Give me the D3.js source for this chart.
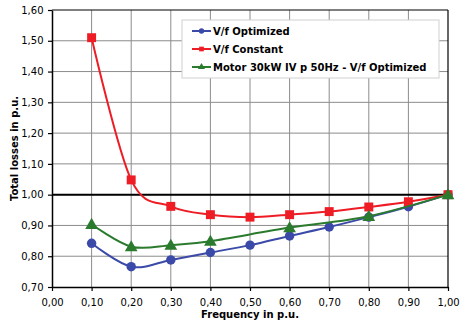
<!DOCTYPE html>
<html>
<head>
<meta charset="utf-8">
<script src="https://cdn.jsdelivr.net/npm/d3@7"></script>
<style>
  body { margin: 0; background: #fff; }
  svg text { font-family: "DejaVu Sans", Verdana, sans-serif; }
</style>
</head>
<body>
<svg id="chart" width="467" height="328"></svg>
<script>
// data
const optX = [0.1, 0.2, 0.3, 0.4, 0.5, 0.6, 0.7, 0.8, 0.9, 1.0]
const optY = [0.842, 0.766, 0.788, 0.812, 0.836, 0.866, 0.895, 0.927, 0.961, 1.0]

const constX = [0.1, 0.2, 0.3, 0.4, 0.5, 0.6, 0.7, 0.8, 0.9, 1.0]
const constY = [1.51, 1.048, 0.962, 0.935, 0.927, 0.935, 0.945, 0.960, 0.977, 1.0]

const motorX = [0.1, 0.2, 0.3, 0.4, 0.6, 0.8, 1.0]
const motorY = [0.904, 0.831, 0.836, 0.849, 0.893, 0.930, 1.0]

const xTicks = [0, 0.1, 0.2, 0.3, 0.4, 0.5, 0.6, 0.7, 0.8, 0.9, 1.0]
const yTicks = [0.7, 0.8, 0.9, 1.0, 1.1, 1.2, 1.3, 1.4, 1.5, 1.6]

const seriesNames = ["V/f Optimized", "V/f Constant", "Motor 30kW IV p 50Hz - V/f Optimized"]

const svg = d3.select("#chart")
const margin = { top: 10, right: 19, bottom: 41, left: 52 }
const width = 467 - margin.left - margin.right
const height = 328 - margin.top - margin.bottom

const x = d3.scaleLinear().domain([0, 1]).range([0, width])
const y = d3.scaleLinear().domain([0.7, 1.6]).range([height, 0])

const fmt = d => d.toFixed(2).replace(".", ",")

const g = svg.append("g").attr("transform", "translate(" + margin.left + "," + margin.top + ")")

// grid
g.append("g").selectAll("line").data(xTicks.slice(1, -1)).enter().append("line")
    .attr("x1", d => x(d)).attr("x2", d => x(d))
    .attr("y1", 0).attr("y2", height)
    .attr("stroke", "#8c8c8c").attr("stroke-width", 1)
g.append("g").selectAll("line").data(yTicks.slice(1, -1)).enter().append("line")
    .attr("x1", 0).attr("x2", width)
    .attr("y1", d => y(d)).attr("y2", d => y(d))
    .attr("stroke", "#8c8c8c").attr("stroke-width", 1)

// axes
const xAxis = g.append("g").attr("transform", "translate(0," + height + ")")
    .call(d3.axisBottom(x).tickValues(xTicks).tickFormat(fmt).tickSize(4).tickSizeOuter(0))
const yAxis = g.append("g")
    .call(d3.axisLeft(y).tickValues(yTicks).tickFormat(fmt).tickSize(4).tickSizeOuter(0))
for (const ax of [xAxis, yAxis]) {
    ax.select(".domain").attr("stroke", "#000").attr("stroke-width", 1.5)
    ax.selectAll(".tick line").attr("stroke", "#000").attr("stroke-width", 1.2)
    ax.selectAll("text").attr("fill", "#000").style("font-size", "10px")
}
xAxis.selectAll("text").attr("dy", "1.2em")
yAxis.selectAll("text").attr("dx", "-0.15em")

// top/right frame
g.append("line").attr("x1", 0).attr("x2", width).attr("y1", 0).attr("y2", 0)
    .attr("stroke", "#000").attr("stroke-width", 1.2)
g.append("line").attr("x1", width).attr("x2", width).attr("y1", 0).attr("y2", height)
    .attr("stroke", "#000").attr("stroke-width", 1.2)

// reference line at 1.00
g.append("line").attr("x1", 0).attr("x2", width).attr("y1", y(1)).attr("y2", y(1))
    .attr("stroke", "#000").attr("stroke-width", 2)

const series = [
    { name: seriesNames[0], xs: optX, ys: optY, color: "#3b4aa8", marker: "circle" },
    { name: seriesNames[1], xs: constX, ys: constY, color: "#ee1d25", marker: "square" },
    { name: seriesNames[2], xs: motorX, ys: motorY, color: "#2b7b2e", marker: "triangle" },
]

// uniform catmull-rom, close to excel's smoothed lines
const line = d3.line()
    .x(d => x(d[0]))
    .y(d => y(d[1]))
    .curve(d3.curveCatmullRom.alpha(0))

const symbolOf = m => m === "circle" ? d3.symbolCircle : m === "square" ? d3.symbolSquare : d3.symbolTriangle
const sizeOf = m => m === "circle" ? 70 : m === "square" ? 80 : 70

series.forEach(s => {
    const pts = s.xs.map((v, i) => [v, s.ys[i]])
    g.append("path").datum(pts)
        .attr("d", line)
        .attr("fill", "none")
        .attr("stroke", s.color)
        .attr("stroke-width", 2)
    g.append("g").selectAll("path").data(pts).enter().append("path")
        .attr("transform", d => "translate(" + x(d[0]) + "," + (y(d[1]) + (s.marker === "triangle" ? 1 : 0)) + ")")
        .attr("d", d3.symbol().type(symbolOf(s.marker)).size(sizeOf(s.marker)))
        .attr("fill", s.color)
})

// legend
const legend = svg.append("g").attr("transform", "translate(182,20)")
legend.append("rect")
    .attr("width", 257).attr("height", 58)
    .attr("fill", "#fff").attr("stroke", "#d0d0d0").attr("stroke-width", 1)
series.forEach((s, i) => {
    const row = legend.append("g").attr("transform", "translate(0," + (11 + i * 18) + ")")
    row.append("line").attr("x1", 10).attr("x2", 29).attr("y1", 0).attr("y2", 0)
        .attr("stroke", s.color).attr("stroke-width", 2)
    row.append("path")
        .attr("transform", "translate(19.5,0)")
        .attr("d", d3.symbol().type(symbolOf(s.marker)).size(22))
        .attr("fill", s.color)
    row.append("text").attr("x", 31).attr("y", 4)
        .style("font-size", "10px").style("font-weight", "bold")
        .attr("fill", "#000")
        .text(s.name)
})

// axis titles
svg.append("text")
    .attr("x", margin.left + width / 2).attr("y", 318)
    .attr("text-anchor", "middle")
    .style("font-size", "10px").style("font-weight", "bold")
    .text("Frequency in p.u.")
svg.append("text")
    .attr("transform", "translate(18," + (margin.top + height / 2) + ") rotate(-90)")
    .attr("text-anchor", "middle")
    .style("font-size", "10px").style("font-weight", "bold")
    .text("Total losses in p.u.")
</script>
</body>
</html>
